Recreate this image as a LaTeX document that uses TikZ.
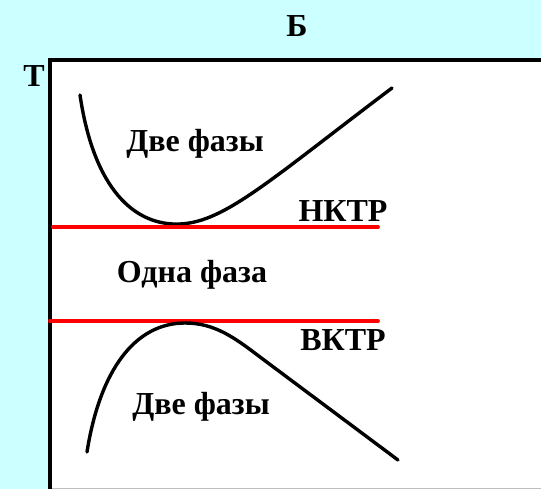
\documentclass[tikz,border=0pt]{standalone}
\usepackage{fontspec}
\setmainfont{Liberation Serif}
\definecolor{bgcyan}{HTML}{CCFFFF}
\definecolor{redline}{HTML}{FF0000}
\begin{document}
\begin{tikzpicture}[x=1pt,y=-1pt,
  lbl/.style={font=\fontsize{32}{36}\selectfont\bfseries, inner sep=0pt, text=black},
  curve/.style={line width=3.4pt, black, line cap=round},
  tr/.style={line width=3.8pt, redline, line cap=round}]
\useasboundingbox (0,0) rectangle (541,489);
\fill[bgcyan] (0,0) rectangle (541,489);
\fill[white] (50,60) rectangle (541,489);
\draw[gray!50, line width=1pt] (52,488) -- (541,488);
\draw[line width=4pt, black] (50,489) -- (50,60) -- (541,60);
\node[lbl] (b) at (297,26) {Б};
\node[lbl] (t) at (34,76) {Т};
% upper curve
\draw[curve] (80,95) .. controls (94,190) and (135,226) .. (180,224)
  .. controls (225,222) and (270,180) .. (392,88);
\draw[tr] (53,227) -- (378,227);
\draw[tr] (50,321) -- (378,321);
% lower curve
\draw[curve] (87,452) .. controls (100,370) and (135,323) .. (185,323)
  .. controls (215,323) and (235,338) .. (260,357) -- (398,460);
\node[lbl] (two1) at (195,144) {Две фазы};
\node[lbl] (nktr) at (343,211) {НКТР};
\node[lbl] (one) at (192,275) {Одна фаза};
\node[lbl] (vktr) at (343,340) {ВКТР};
\node[lbl] (two2) at (201,407) {Две фазы};
\end{tikzpicture}
\end{document}
